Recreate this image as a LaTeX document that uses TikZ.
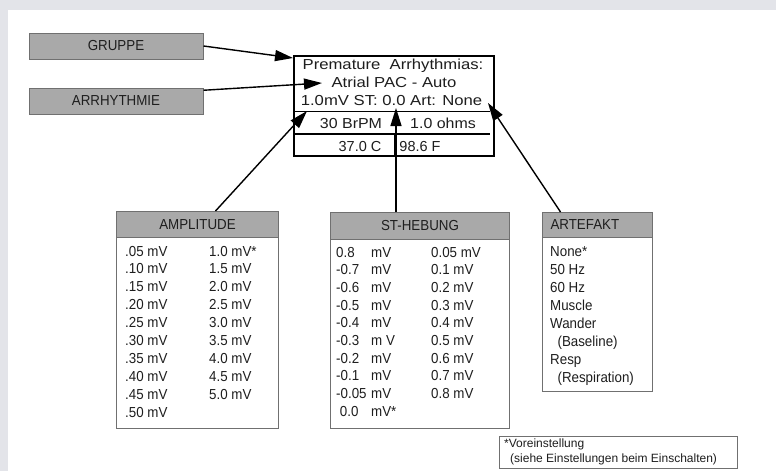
\documentclass[tikz,border=0pt]{standalone}
\usepackage{graphicx}
\usepackage{fontspec}
\setmainfont{Liberation Sans}
\usetikzlibrary{arrows.meta,calc}
\definecolor{bggrey}{HTML}{E3E4E9}
\definecolor{hdrgrey}{HTML}{A9A9A9}
\definecolor{boxline}{HTML}{707070}
\definecolor{ink}{HTML}{1E1E1E}
\newcommand\mainfnt{\fontsize{14.5}{18}\selectfont}
\newcommand\lblfnt{\fontsize{14.5}{16}\selectfont}
\newcommand\ampfnt{\fontsize{14.5}{17.9}\selectfont}
\newcommand\stfnt{\fontsize{14.5}{17.7}\selectfont}
\newcommand\artfnt{\fontsize{14.5}{18.1}\selectfont}
\newcommand\legfnt{\fontsize{12}{15}\selectfont}
\newcommand\wide[2][1.15]{\scalebox{#1}[1]{#2}}
\newcommand\nar[1]{\scalebox{0.92}[1]{#1}}
\tikzset{
  tagbox/.style={draw=boxline, fill=hdrgrey, line width=1pt, minimum width=174pt, minimum height=26pt, inner sep=0pt, font=\lblfnt, text=ink},
  hdrbox/.style={draw=boxline, fill=hdrgrey, line width=1pt, inner sep=0pt, anchor=north west, font=\lblfnt, text=ink},
  bodybox/.style={draw=boxline, fill=white, line width=1pt, inner sep=0pt, anchor=north west},
  mainbox/.style={draw=black, line width=1.5pt, inner sep=0pt, anchor=north west, minimum width=200pt, minimum height=100pt},
  mtext/.style={inner sep=0pt, font=\mainfnt, text=ink, anchor=base},
  colA/.style={inner sep=0pt, anchor=base west, font=\ampfnt, text=ink},
  colS/.style={inner sep=0pt, anchor=base west, font=\stfnt, text=ink},
  colR/.style={inner sep=0pt, anchor=base west, font=\artfnt, text=ink},
  legtext/.style={inner sep=0pt, anchor=base west, font=\legfnt, text=ink},
  divider/.style={draw=black, line width=1.5pt},
  ptr/.style={draw=black, line width=1.4pt, -{Triangle[length=18pt,width=11pt]}},
}
\begin{document}
\begin{tikzpicture}[x=1pt,y=-1pt]
\useasboundingbox (0,0) rectangle (776,471);
\fill[bggrey] (0,0) rectangle (776,471);
\fill[white] (8,10) rectangle (776,471);

% label boxes
\node[tagbox] (grp) at (116,46) {\nar{GRUPPE}};
\node[tagbox] (arr) at (116,101) {\nar{ARRHYTHMIE}};

% main display box
\node[mainbox] (main) at (293,55) {};
\draw[divider] (295,111.5) -- (490,111.5);
\draw[divider] (295,134) -- (490,134);
\draw[divider] (395,134) -- (395,155);
\node[mtext] (m1) at (393,69) {\wide{Premature\ \ Arrhythmias:}};
\node[mtext] (m2) at (394,87) {\wide{Atrial PAC - Auto}};
\node[mtext] (m3) at (391.5,105) {\wide{1.0mV ST: 0.0 Art: None}};
\node[mtext] (m4) at (351,128) {\wide[1.1]{30 BrPM}};
\node[mtext] (m5) at (443,128) {\wide[1.1]{1.0 ohms}};
\node[mtext] (m6) at (360,151) {37.0 C};
\node[mtext] (m7) at (420,151) {98.6 F};

% AMPLITUDE
\node[hdrbox, minimum width=162pt, minimum height=26pt] (amph) at (116,211) {\nar{AMPLITUDE}};
\node[bodybox, minimum width=162pt, minimum height=191pt] (ampb) at (116,237) {};
\node[colA] (ampl) at (125,256) {\nar{\begin{tabular}[t]{@{}l@{}}.05 mV\\.10 mV\\.15 mV\\.20 mV\\.25 mV\\.30 mV\\.35 mV\\.40 mV\\.45 mV\\.50 mV\end{tabular}}};
\node[colA] (ampr) at (209,256) {\nar{\begin{tabular}[t]{@{}l@{}}1.0 mV*\\1.5 mV\\2.0 mV\\2.5 mV\\3.0 mV\\3.5 mV\\4.0 mV\\4.5 mV\\5.0 mV\end{tabular}}};

% ST-HEBUNG
\node[hdrbox, minimum width=179pt, minimum height=27pt] (sth) at (330,212) {\nar{ST-HEBUNG}};
\node[bodybox, minimum width=179pt, minimum height=189pt] (stb) at (330,239) {};
\node[colS] (stl) at (336,257) {\nar{\begin{tabular}[t]{@{}l@{\hspace{5pt}}l@{}}0.8 & mV\\-0.7 & mV\\-0.6 & mV\\-0.5 & mV\\-0.4 & mV\\-0.3 & m V\\-0.2 & mV\\-0.1 & mV\\-0.05 & mV\\\ 0.0 & mV*\end{tabular}}};
\node[colS] (str) at (431,257) {\nar{\begin{tabular}[t]{@{}l@{}}0.05 mV\\0.1 mV\\0.2 mV\\0.3 mV\\0.4 mV\\0.5 mV\\0.6 mV\\0.7 mV\\0.8 mV\end{tabular}}};

% ARTEFAKT
\node[hdrbox, minimum width=110pt, minimum height=25pt, text width=94pt, inner xsep=8pt, align=left] (arth) at (542,212) {\nar{ARTEFAKT}};
\node[bodybox, minimum width=110pt, minimum height=154pt] (artb) at (542,237) {};
\node[colR] (artc) at (550,256) {\nar{\begin{tabular}[t]{@{}l@{}}None*\\50 Hz\\60 Hz\\Muscle\\Wander\\\hspace{8pt}(Baseline)\\Resp\\\hspace{8pt}(Respiration)\end{tabular}}};

% legend
\node[bodybox, minimum width=238pt, minimum height=32pt] (leg) at (499,436) {};
\node[legtext] (leg1) at (504,447) {*Voreinstellung};
\node[legtext] (leg2) at (510,462) {(siehe Einstellungen beim Einschalten)};

% pointer targets inside the display
\coordinate (tG) at (293,58);
\coordinate (tA) at (322,83);
\coordinate (tAmp) at (307,111);
\coordinate (tST) at (396,108);
\coordinate (tArt) at (488,103);

% connectors
\draw[ptr] (grp.east) -- (tG);
\draw[ptr] (arr.7) -- (tA);
\draw[ptr] ($(amph.north)+(18,0)$) -- (tAmp);
\draw[ptr] (sth.north -| tST) -- (tST);
\draw[ptr] ($(arth.north)+(-37,0)$) -- (tArt);
\end{tikzpicture}
\end{document}
